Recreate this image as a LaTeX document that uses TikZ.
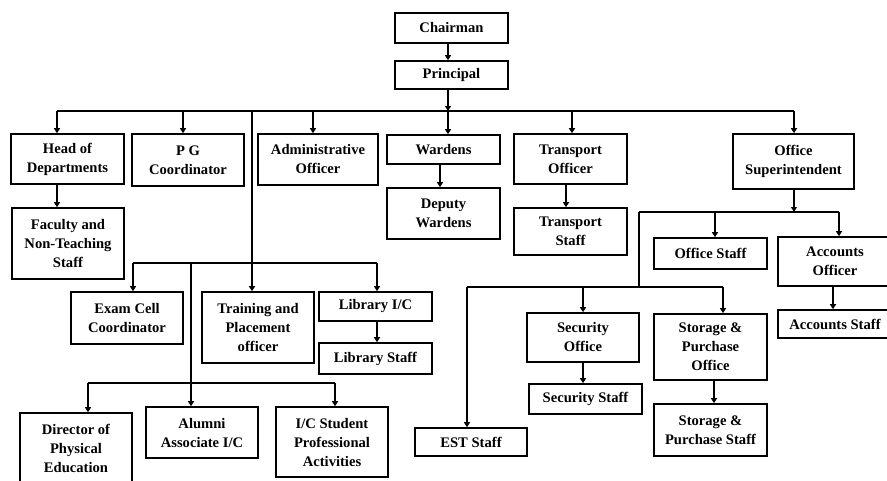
\documentclass[tikz,border=0pt]{standalone}
\usepackage{fontspec}
\setmainfont{Liberation Serif}
\usetikzlibrary{arrows.meta}
\begin{document}
\begin{tikzpicture}[x=1pt,y=-1pt,
  box/.style={draw, line width=1.6pt, align=center, inner sep=1pt,
    font=\fontsize{14.6}{19}\selectfont\bfseries},
  link/.style={line width=1.5pt},
  arr/.style={line width=1.5pt, -{Triangle[length=5pt,width=6pt]}}]
\useasboundingbox (0,0) rectangle (887,480);

% top of the chart
\node[box, minimum width=113pt, minimum height=30pt] (chair) at (451.5,28) {Chairman};
\node[box, minimum width=113pt, minimum height=28pt] (princ) at (451.5,75) {Principal};

% first level
\node[box, minimum width=113pt, minimum height=50pt] (hod) at (67.5,159) {Head of\\Departments};
\node[box, minimum width=112pt, minimum height=52pt] (pg) at (188,160) {P G\\Coordinator};
\node[box, minimum width=120pt, minimum height=51pt] (admin) at (318,159.5) {Administrative\\Officer};
\node[box, minimum width=113pt, minimum height=29pt] (wardens) at (443.5,149.5) {Wardens};
\node[box, minimum width=113pt, minimum height=50pt] (transO) at (570.5,159) {Transport\\Officer};
\node[box, minimum width=121pt, minimum height=55pt] (offsup) at (793.5,161.5) {Office\\Superintendent};

% second level
\node[box, minimum width=112pt, minimum height=71pt] (faculty) at (68,243.5) {Faculty and\\Non-Teaching\\Staff};
\node[box, minimum width=113pt, minimum height=51pt] (deputy) at (443.5,213.5) {Deputy\\Wardens};
\node[box, minimum width=113pt, minimum height=47pt] (transS) at (570.5,231.5) {Transport\\Staff};
\node[box, minimum width=113pt, minimum height=31pt] (offstaff) at (710.5,253.5) {Office Staff};
\node[box, minimum width=114pt, minimum height=49pt] (accO) at (835,261.5) {Accounts\\Officer};
\node[box, minimum width=114pt, minimum height=28pt] (accS) at (835,324) {Accounts Staff};

% academic branch
\node[box, minimum width=112pt, minimum height=52pt] (exam) at (127,318) {Exam Cell\\Coordinator};
\node[box, minimum width=112pt, minimum height=71pt] (train) at (258,327.5) {Training and\\Placement\\officer};
\node[box, minimum width=113pt, minimum height=29pt] (libIC) at (375.5,306.5) {Library I/C};
\node[box, minimum width=113pt, minimum height=31pt] (libS) at (375.5,358.5) {Library Staff};
\node[box, minimum width=112pt, minimum height=70pt] (dir) at (76,448) {Director of\\Physical\\Education};
\node[box, minimum width=112pt, minimum height=51pt] (alumni) at (202,432.5) {Alumni\\Associate I/C};
\node[box, minimum width=112pt, minimum height=70pt] (icstud) at (332,442) {I/C Student\\Professional\\Activities};

% office branch
\node[box, minimum width=112pt, minimum height=49pt] (secO) at (583,337.5) {Security\\Office};
\node[box, minimum width=113pt, minimum height=30pt] (secS) at (585.5,399) {Security Staff};
\node[box, minimum width=113pt, minimum height=66pt] (storO) at (710.5,347) {Storage \&\\Purchase\\Office};
\node[box, minimum width=113pt, minimum height=52pt] (storS) at (710.5,430) {Storage \&\\Purchase Staff};
\node[box, minimum width=112pt, minimum height=28pt] (est) at (471,442) {EST Staff};

% bus junctions
\coordinate (m0) at (448,111);
\coordinate (m1) at (57,111);
\coordinate (m2) at (183,111);
\coordinate (m3) at (252,111);
\coordinate (m4) at (313,111);
\coordinate (m5) at (572,111);
\coordinate (m6) at (794,111);
\coordinate (a0) at (133,263);
\coordinate (a1) at (191,263);
\coordinate (a2) at (377,263);
\coordinate (d0) at (88,383);
\coordinate (d1) at (191,383);
\coordinate (d2) at (335,383);
\coordinate (o0) at (639,212);
\coordinate (o1) at (715,212);
\coordinate (o2) at (839,212);
\coordinate (o3) at (794,212);
\coordinate (s0) at (467,287);
\coordinate (s1) at (583,287);
\coordinate (s2) at (723,287);
\coordinate (s3) at (639,287);

% chairman and principal
\draw[arr] (chair.south -| m0) -- (princ.north -| m0);
\draw[arr] (princ.south -| m0) -- (m0);

% main bus
\draw[link] (m1) -- (m6);
\draw[arr] (m1) -- (m1 |- hod.north);
\draw[arr] (m2) -- (m2 |- pg.north);
\draw[arr] (m4) -- (m4 |- admin.north);
\draw[arr] (m0) -- (m0 |- wardens.north);
\draw[arr] (m5) -- (m5 |- transO.north);
\draw[arr] (m6) -- (m6 |- offsup.north);
\draw[arr] (m3) -- (m3 |- train.north);

% single links
\draw[arr] (m1 |- hod.south) -- (m1 |- faculty.north);
\draw[arr] (wardens.south -| 440,0) -- (deputy.north -| 440,0);
\draw[arr] (transO.south -| 566,0) -- (transS.north -| 566,0);
\draw[arr] (accO.south -| 833,0) -- (accS.north -| 833,0);
\draw[arr] (libIC.south -| a2) -- (libS.north -| a2);
\draw[arr] (secO.south -| s1) -- (secS.north -| s1);
\draw[arr] (storO.south -| 714,0) -- (storS.north -| 714,0);

% academic buses
\draw[link] (a0) -- (a2);
\draw[arr] (a0) -- (a0 |- exam.north);
\draw[arr] (a2) -- (a2 |- libIC.north);
\draw[link] (a1) -- (d1);
\draw[link] (d0) -- (d2);
\draw[arr] (d0) -- (d0 |- dir.north);
\draw[arr] (d1) -- (d1 |- alumni.north);
\draw[arr] (d2) -- (d2 |- icstud.north);

% office buses
\draw[arr] (offsup.south -| o3) -- (o3);
\draw[link] (o0) -- (o2);
\draw[arr] (o1) -- (o1 |- offstaff.north);
\draw[arr] (o2) -- (o2 |- accO.north);
\draw[link] (o0) -- (s3);
\draw[link] (s0) -- (s2);
\draw[arr] (s0) -- (s0 |- est.north);
\draw[arr] (s1) -- (s1 |- secO.north);
\draw[arr] (s2) -- (s2 |- storO.north);
\end{tikzpicture}
\end{document}
